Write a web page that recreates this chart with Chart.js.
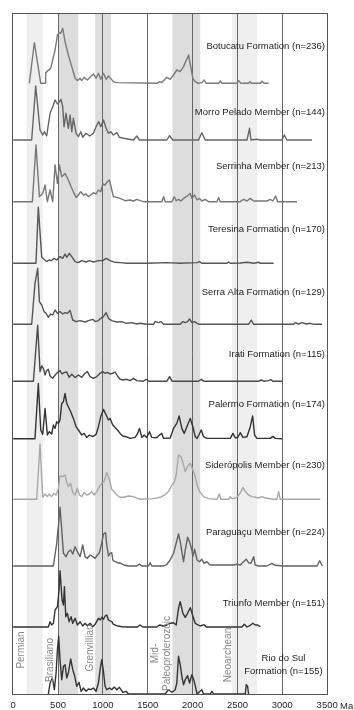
<!DOCTYPE html>
<html>
<head>
<meta charset="utf-8">
<script src="https://cdn.jsdelivr.net/npm/chart.js@4"></script>
<style>
  html, body { margin: 0; padding: 0; background: #fff; }
  canvas { display: block; }
</style>
</head>
<body>
<canvas id="chart" width="354" height="710"></canvas>
<script>
'use strict';

// Probability density curves: [age (Ma), height above the curve's own baseline]
const botucatu = [[180,0],[236,40.7],[307,0],[355,0],[362,10.7],[418,15],[467,33.3],[493,48.3],[515,50.7],[530,50],[552,55],[578,41.7],[615,28.3],[653,16.7],[690,5],[716,2.7],[746,5],[764,2.7],[790,6],[827,3.3],[865,6.7],[894,9.3],[924,5],[950,10],[976,4],[1006,10],[1036,4],[1062,7.3],[1088,4.7],[1117,1.7],[1155,0.7],[1601,0],[1631,1.7],[1657,0.7],[1713,6],[1750,4],[1787,8.3],[1824,13.3],[1862,11.7],[1899,16.7],[1955,28.3],[2003,5],[2029,1.7],[2066,0],[2103,0.7],[2129,3.3],[2152,0],[2290,0],[2308,2.3],[2327,0],[2495,0],[2513,2.7],[2539,0],[2624,0],[2640,1.7],[2654,0],[2755,0],[2773,2],[2799,0],[2847,0]];
const morroPelado = [[0,0],[206,0],[251,54],[299,10],[329,5],[347,8.3],[373,4],[411,26.7],[448,35],[467,40],[493,36],[515,38.3],[533,40.7],[552,33.3],[567,13.3],[589,26.7],[615,11.7],[634,25],[653,8.3],[671,21.7],[701,6.7],[727,3.3],[753,8.3],[775,2.7],[812,6.7],[850,4],[894,6.7],[932,15],[954,18.3],[976,13.3],[1006,20],[1036,11.7],[1062,6.7],[1088,8.3],[1117,5],[1155,7.3],[1184,2.7],[1229,1.7],[1341,0],[1378,4],[1408,0],[1713,0],[1743,4.3],[1780,0],[2066,0],[2103,7.3],[2140,0],[2606,0],[2635,11.7],[2650,0],[2717,0.7],[2755,0],[2996,0],[3022,5],[3052,0],[3331,0]];
const serrinha = [[0,0],[214,0],[254,56.7],[292,5],[329,8.3],[355,16.7],[381,0],[411,11.7],[440,0],[467,36.7],[493,18.3],[515,36.7],[541,25],[578,28.3],[615,21.7],[645,15],[671,10],[701,4.3],[727,6.7],[753,10],[783,6.7],[812,7.7],[838,5],[865,6.7],[894,9],[924,7.7],[950,11.7],[976,10],[999,17.7],[1024,16.7],[1050,20],[1073,21.7],[1099,11.7],[1117,5],[1155,4.3],[1192,3.3],[1248,1],[1303,1.7],[1341,0.7],[1378,2.3],[1415,1],[1452,0],[1657,0],[1676,5],[1694,0],[1769,0],[1795,5],[1817,1],[1843,2.3],[1869,0.7],[1899,3.3],[1929,5],[1955,6.7],[1974,8.3],[1992,3.3],[2022,6.7],[2050,1.7],[2077,3.3],[2103,0.7],[2140,2.3],[2178,0],[2271,0],[2290,4.3],[2308,0],[2531,0],[2568,2.3],[2606,0.7],[2643,3.3],[2680,0.7],[2829,0.7],[2866,2.3],[2895,0.7],[2925,5.7],[2948,0],[3164,0]];
const teresina = [[0,0],[254,0],[280,56],[318,6],[344,4],[373,1.7],[400,3.3],[429,2.7],[455,5],[485,3.3],[522,6.7],[552,5],[578,9.3],[597,6],[626,10],[653,6.7],[690,1.7],[727,0.7],[764,2.7],[812,1.3],[850,2.7],[894,1.3],[950,2.7],[999,2.7],[1036,5],[1080,2.7],[1136,1],[1192,0.7],[1266,0],[1489,0],[1713,0.7],[1862,0],[2050,0.7],[2077,1.7],[2103,0],[2383,0],[2401,1.3],[2420,0],[2531,0.3],[2606,1],[2680,0],[2736,1],[2755,0],[2903,0]];
const serraAlta = [[0,0],[206,0],[243,41],[273,56],[292,22.7],[318,19.3],[344,12.7],[366,11],[392,7],[418,10.3],[440,9.3],[467,14.3],[493,11],[522,12.7],[552,10.3],[578,11.7],[604,11],[634,13.7],[664,4.3],[701,2.7],[746,3.7],[801,2.3],[838,3.7],[887,5],[913,2.7],[950,3.7],[976,6],[1006,7.7],[1036,11.7],[1062,6],[1099,3.7],[1155,2.3],[1210,2.7],[1266,1],[1322,1.7],[1378,0.3],[1415,1],[1489,0],[1564,0],[1582,2.7],[1620,1.7],[1645,2.7],[1676,0],[1862,0],[1892,2.7],[1918,1.7],[1944,2.7],[1966,5.3],[1992,1.7],[2022,2.7],[2050,1],[2077,0],[2624,0],[2654,4.3],[2680,0],[3126,0],[3145,1.7],[3182,0.3],[3219,1.7],[3268,0.3],[3312,1],[3350,0],[3443,0]];
const irati = [[0,0],[225,0],[273,56],[299,9.7],[318,15.3],[336,13],[355,6.3],[373,10.7],[392,12],[411,5.3],[440,3],[467,6.3],[493,8.7],[522,10.7],[545,7.3],[567,8.7],[597,9.3],[623,4],[653,7],[690,3.7],[727,6.3],[764,4],[801,8],[827,9.7],[857,4.7],[894,3],[932,4.7],[969,8],[999,9.7],[1024,8],[1050,9],[1080,7.3],[1110,8],[1136,9.3],[1162,5.3],[1192,2],[1229,1.3],[1266,2],[1303,0.7],[1341,3],[1378,0.7],[1452,0],[1482,2],[1512,0],[1713,0],[1743,4.7],[1772,0],[2066,0],[2096,2],[2129,0],[2736,0],[2765,1.3],[2799,0],[2847,0.7],[2873,1.7],[2895,0],[2996,0]];
const palermo = [[0,0],[243,0],[280,55.3],[307,8.7],[329,4.3],[355,30.3],[381,3.7],[403,7],[429,4.7],[448,13.7],[467,10.3],[485,17],[504,15.3],[522,18.7],[541,35.3],[560,37],[578,45.3],[597,35.3],[615,32],[641,27],[671,20.3],[701,12],[727,8.7],[764,3.7],[790,5.3],[820,1.3],[850,3.7],[887,2],[924,4.3],[950,12],[976,22],[1006,29.3],[1036,23.7],[1062,18.7],[1080,20.3],[1110,13.7],[1136,11.3],[1162,8.7],[1192,5.3],[1222,2.7],[1259,2],[1303,0.3],[1359,1.3],[1385,4.7],[1408,10.3],[1434,1.3],[1460,3.7],[1489,1.3],[1519,7],[1545,1.3],[1601,1],[1631,3.7],[1657,5.3],[1676,0.3],[1750,0.7],[1787,10.3],[1824,15.3],[1850,22.7],[1880,10.3],[1906,5.3],[1944,13.7],[1974,20.3],[2003,12],[2029,2],[2050,0.3],[2070,3.7],[2096,8.7],[2122,2],[2159,0.3],[2420,0.3],[2449,5.3],[2475,1],[2502,1],[2531,6],[2561,1.3],[2606,2],[2643,12],[2669,22.7],[2691,3.7],[2717,0.3],[2866,0.3],[2895,2.3],[2922,0.3],[2996,0]];
const sideropolis = [[0,0],[262,0],[299,55.3],[329,2],[355,5.3],[381,2.7],[403,5.3],[429,2.7],[455,6],[478,4.3],[504,11],[522,23.3],[552,22.7],[578,24.3],[597,16.7],[615,12.7],[641,16],[664,6.7],[690,4.3],[716,11],[738,4.3],[764,2.7],[790,6.7],[820,4.3],[850,5.3],[876,7.7],[902,4.3],[932,7.7],[961,12.7],[987,16],[1013,17.7],[1043,26.7],[1073,19.3],[1099,10],[1125,7.7],[1155,4.3],[1192,2],[1229,2],[1285,3.3],[1341,2.7],[1415,0],[1564,0.7],[1638,2],[1694,4.7],[1731,7.7],[1769,14.3],[1795,16.7],[1817,24.3],[1843,44.3],[1869,42.7],[1892,36.7],[1918,27.7],[1944,32.7],[1974,36],[2003,29.3],[2029,22.7],[2055,12.7],[2085,6.7],[2122,2.7],[2178,0.7],[2271,0],[2297,5.3],[2315,0],[2401,0],[2420,2.7],[2438,0.7],[2475,1],[2502,2.7],[2531,6],[2561,12],[2587,7.7],[2624,4.3],[2661,2.7],[2698,2],[2736,1.3],[2773,2.7],[2810,1.3],[2903,0],[2940,0],[2959,7.7],[2977,0],[3424,0]];
const paraguacu = [[0,0],[448,0],[485,22.7],[507,42.7],[522,58.7],[541,36],[560,12.7],[589,9.3],[615,14.3],[641,16],[664,12],[690,19.3],[716,14.3],[746,9.3],[775,21],[801,9.3],[827,7.7],[857,11],[887,9.3],[913,7.7],[939,11],[961,13.3],[987,22.7],[1006,32],[1029,33.3],[1043,21],[1062,10],[1080,12.7],[1099,13.3],[1110,6],[1136,4.3],[1162,3.3],[1199,2.7],[1236,1],[1285,0],[1378,0],[1408,2],[1434,0],[1508,0],[1527,3.3],[1545,0],[1676,0],[1713,1.7],[1750,6],[1787,12.7],[1817,22.7],[1843,32],[1862,24.3],[1880,14.3],[1899,4.3],[1918,16],[1944,28.7],[1966,24.3],[1992,16],[2003,9.3],[2022,16.7],[2050,6],[2077,4.3],[2103,6.7],[2129,2.7],[2159,4.3],[2196,1],[2456,1],[2495,1.7],[2531,1],[2568,4.3],[2598,6.7],[2624,3.3],[2650,2.7],[2680,9.3],[2698,1],[2736,0],[2829,0],[2884,2.7],[2922,0.7],[3015,0],[3387,0],[3417,5.3],[3446,0]];
const triunfo = [[0,0],[392,0],[411,5.3],[429,2],[448,3.7],[467,17],[493,20.3],[511,37],[522,56.3],[545,27],[560,22],[571,40.3],[586,10.3],[604,13.7],[623,5.3],[645,10.3],[664,3.7],[690,8.7],[716,2],[746,5.3],[775,1],[801,3.7],[827,1.3],[857,3.7],[887,0.3],[913,2.7],[950,8.7],[969,7],[987,9.7],[1006,7.7],[1024,11],[1043,12],[1062,7],[1099,5.3],[1117,2.7],[1155,1.3],[1210,0.3],[1266,0],[1385,0],[1415,2],[1445,0],[1601,0],[1631,2],[1676,1],[1713,2],[1750,3.7],[1787,4.3],[1817,2],[1843,18.7],[1862,25.3],[1892,13.7],[1918,9.7],[1944,13.7],[1974,19.3],[2003,11],[2029,3.7],[2085,1],[2129,2.3],[2152,0],[2549,0],[2576,2.7],[2606,0],[2643,1.7],[2672,3.7],[2698,2],[2725,2],[2755,0.3]];
const rioDoSul = [[392,0],[411,11],[437,16],[459,4.3],[478,21],[493,44.3],[507,57.7],[522,34.3],[541,14.3],[560,27.7],[578,29.3],[597,16],[615,21],[641,35],[664,24.3],[686,17.7],[708,7.7],[734,11.7],[757,2.7],[783,6],[812,2.7],[838,5],[865,4.3],[894,6],[924,2.7],[950,11],[969,24.3],[987,34.3],[1006,22.7],[1024,7.7],[1043,4.3],[1073,6],[1099,4.3],[1125,7],[1155,4.3],[1184,6.7],[1222,1.7],[1259,2.7],[1285,0],[1694,0],[1731,4.3],[1769,1.7],[1806,4.3],[1824,11],[1843,37.7],[1862,29.3],[1880,17.7],[1899,9.3],[1918,14.3],[1944,18.3],[1966,11],[1992,19.3],[2018,12.7],[2050,0],[2103,4.3],[2122,0],[2196,0],[2215,2.7],[2234,0],[2587,0],[2598,9.3],[2613,7.7],[2624,0]];

const seriesData = [botucatu, morroPelado, serrinha, teresina, serraAlta, irati, palermo, sideropolis, paraguacu, triunfo, rioDoSul];
const seriesNames = [
  'Botucatu Formation (n=236)',
  'Morro Pelado Member (n=144)',
  'Serrinha Member (n=213)',
  'Teresina Formation (n=170)',
  'Serra Alta Formation (n=129)',
  'Irati Formation (n=115)',
  'Palermo Formation (n=174)',
  'Siderópolis Member (n=230)',
  'Paraguaçu Member (n=224)',
  'Triunfo Member (n=151)',
  'Rio do Sul\nFormation (n=155)',
];

// Vertical offset of every curve, from the bottom of the plot
const baselines = [610.7, 554, 492.3, 430.7, 369.7, 312.7, 255.3, 194.7, 128, 67, 0];
const lineColors = ['#7a7a7a', '#666666', '#777777', '#555555', '#555555', '#4a4a4a', '#333333', '#a8a8a8', '#626262', '#333333', '#333333'];

// Where each name sits: age of its anchor, height above its baseline
const labelAge = [3476, 3476, 3476, 3476, 3476, 3476, 3476, 3476, 3476, 3476, 3013];
const labelLift = [36.6, 27.3, 35, 34.3, 31.6, 27.3, 34.7, 34.3, 33.3, 23.7, 29.5];

const xTicks = [0, 500, 1000, 1500, 2000, 2500, 3000, 3500];

// Shaded age intervals
const bandNames = ['Permian', 'Brasiliano', 'Grenvillian', 'Mid-\nPaleoproterozoic', 'Neoarchean'];
const bandStart = [150, 500, 915, 1775, 2440];
const bandEnd = [330, 725, 1090, 2085, 2720];
const bandColors = ['#efefef', '#dddddd', '#dddddd', '#dddddd', '#efefef'];
const bandLabelAge = [95, 418, 864, 1654, 2398];
const bandLabelLift = [44, 34, 46, 40.5, 39];

const FONT = '"Liberation Sans", Arial, Helvetica, sans-serif';

// Plugin: bands behind, frame and texts on top
const decorations = {
  id: 'decorations',
  beforeDraw(chart) {
    const { ctx, chartArea: a, scales: { x } } = chart;
    ctx.save();
    bandStart.forEach((s, i) => {
      const x0 = x.getPixelForValue(s);
      const x1 = x.getPixelForValue(bandEnd[i]);
      ctx.fillStyle = bandColors[i];
      ctx.fillRect(x0, a.top, x1 - x0, a.bottom - a.top);
    });
    ctx.restore();
  },
  afterDatasetsDraw(chart) {
    const { ctx, chartArea: a, scales: { x, y } } = chart;
    ctx.save();

    // Frame
    ctx.strokeStyle = '#555555';
    ctx.lineWidth = 1;
    ctx.strokeRect(Math.round(a.left) + 0.5, Math.round(a.top) + 0.5,
      Math.round(a.right - a.left), Math.round(a.bottom - a.top));

    // Interval names, vertical
    ctx.fillStyle = '#8a8a8a';
    ctx.font = '10px ' + FONT;
    ctx.textAlign = 'center';
    ctx.textBaseline = 'middle';
    bandNames.forEach((name, i) => {
      const lines = name.split('\n');
      ctx.save();
      ctx.translate(x.getPixelForValue(bandLabelAge[i]), y.getPixelForValue(bandLabelLift[i]));
      ctx.rotate(-Math.PI / 2);
      lines.forEach((t, j) => ctx.fillText(t, 0, (j - (lines.length - 1) / 2) * 12));
      ctx.restore();
    });

    // Unit names
    ctx.fillStyle = '#1e1e1e';
    ctx.font = '9.5px ' + FONT;
    seriesNames.forEach((name, i) => {
      const lines = name.split('\n');
      ctx.textAlign = lines.length > 1 ? 'center' : 'right';
      const px = x.getPixelForValue(labelAge[i]);
      const py = y.getPixelForValue(baselines[i] + labelLift[i]);
      lines.forEach((t, j) => ctx.fillText(t, px, py + (j - (lines.length - 1) / 2) * 13));
    });

    // Axis unit
    ctx.textAlign = 'center';
    ctx.textBaseline = 'middle';
    ctx.fillText('Ma', a.right + 19, a.bottom + 12);
    ctx.restore();
  },
};

new Chart(document.getElementById('chart'), {
  type: 'line',
  data: {
    datasets: seriesData.map((pts, i) => ({
      data: pts.map(([age, h]) => ({ x: age, y: baselines[i] + h })),
      borderColor: lineColors[i],
      borderWidth: 1.4,
      borderJoinStyle: 'round',
      pointRadius: 0,
      tension: 0,
      fill: false,
    })),
  },
  options: {
    responsive: false,
    animation: false,
    devicePixelRatio: 1,
    layout: { padding: { left: 12.3, right: 26.3, top: 13.3, bottom: 0 } },
    plugins: {
      legend: { display: false },
      tooltip: { enabled: false },
    },
    scales: {
      x: {
        type: 'linear',
        min: -10,
        max: 3506,
        afterBuildTicks: (s) => { s.ticks = xTicks.map((v) => ({ value: v })); },
        afterFit: (s) => { s.height = 16; },
        grid: {
          drawTicks: false,
          lineWidth: 1,
          color: (c) => (c.tick && (c.tick.value === 0 || c.tick.value === 3500)) ? 'rgba(0,0,0,0)' : '#666666',
        },
        border: { display: false },
        ticks: {
          padding: 6,
          autoSkip: false,
          maxRotation: 0,
          color: '#1e1e1e',
          font: { family: FONT, size: 9.5 },
          callback: (v) => v,
        },
      },
      y: { display: false, min: 0, max: 680.7 },
    },
  },
  plugins: [decorations],
});
</script>
</body>
</html>
